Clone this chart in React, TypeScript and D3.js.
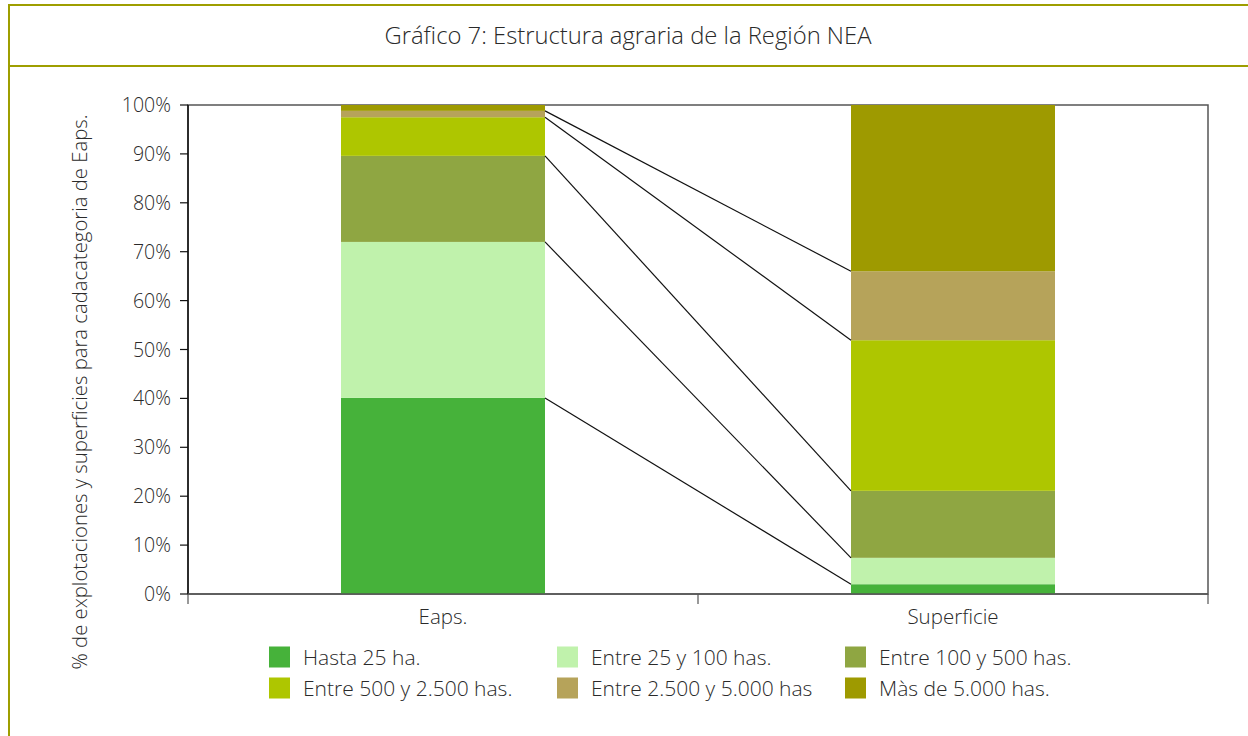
import React from "react";
import * as d3 from "d3";

const categories = ["Eaps.", "Superficie"];
const seriesNames = [
  "Hasta 25 ha.",
  "Entre 25 y 100 has.",
  "Entre 100 y 500 has.",
  "Entre 500 y 2.500 has.",
  "Entre 2.500 y 5.000 has",
  "Màs de 5.000 has.",
];
const eapsValues = [40.1, 31.9, 17.6, 7.9, 1.3, 1.2];
const superficieValues = [2.0, 5.4, 13.7, 30.8, 14.1, 34.0];
const seriesColors = ["#46b23a", "#c0f2ac", "#8fa642", "#aec600", "#b6a35a", "#9e9a00"];
const yTicks = [0, 10, 20, 30, 40, 50, 60, 70, 80, 90, 100];
const title = "Gráfico 7: Estructura agraria de la Región NEA";
const yTitle = "% de explotaciones y superficies para cadacategoria de Eaps.";

const W = 1248;
const H = 736;
const FONT = "'Open Sans', 'Noto Sans', sans-serif";
const M = { left: 188, right: 1208, top: 105, bottom: 594 };
const TXT = "#2a2a2a";

export default function App() {
  const x = d3.scaleBand<string>().domain(categories).range([M.left, M.right]).paddingInner(0.6).paddingOuter(0.3);
  const y = d3.scaleLinear().domain([0, 100]).range([M.bottom, M.top]);
  const valuesByCat = [eapsValues, superficieValues];
  const rows = categories.map((c, ci) => {
    const o: any = { cat: c };
    seriesNames.forEach((s, si) => (o[s] = valuesByCat[ci][si]));
    return o;
  });
  const stacked = d3.stack<any>().keys(seriesNames)(rows);
  const bw = x.bandwidth();
  const band = (M.right - M.left) / categories.length;

  const legendCols = [269, 557, 845];
  const legendRows = [657, 688];

  return (
    <svg width={W} height={H} style={{ position: "absolute", left: 0, top: 0, background: "#fff" }} fontFamily={FONT} fontWeight={300}>
      <rect x={0} y={0} width={W} height={H} fill="#fff" />
      {/* frame */}
      <rect x={9} y={5} width={W + 10} height={H + 10} fill="none" stroke="#9e9e00" strokeWidth={2} />
      <line x1={9} x2={W} y1={66} y2={66} stroke="#9e9e00" strokeWidth={2} />
      <text x={628} y={44} textAnchor="middle" fontSize={23.8} fill={TXT}>{title}</text>

      {/* plot frame */}
      <rect x={M.left} y={M.top} width={M.right - M.left} height={M.bottom - M.top} fill="none" stroke="#555" strokeWidth={1.5} />

      {/* bars */}
      {stacked.map((s, si) =>
        s.map((d, ci) => (
          <rect
            key={`${si}-${ci}`}
            x={x(categories[ci])!}
            y={y(d[1])}
            width={bw}
            height={y(d[0]) - y(d[1])}
            fill={seriesColors[si]}
          />
        ))
      )}

      {/* series lines */}
      {stacked.slice(0, seriesNames.length - 1).map((s, si) => (
        <line
          key={`sl-${si}`}
          x1={x(categories[0])! + bw}
          y1={y(s[0][1])}
          x2={x(categories[1])!}
          y2={y(s[1][1])}
          stroke="#111"
          strokeWidth={1.2}
        />
      ))}

      {/* y axis */}
      <line x1={M.left} x2={M.left} y1={M.top} y2={M.bottom} stroke="#111" strokeWidth={1.5} />
      {yTicks.map((t) => (
        <g key={t}>
          <line x1={M.left - 8} x2={M.left} y1={y(t)} y2={y(t)} stroke="#111" strokeWidth={1.2} />
          <text x={171} y={y(t) + 7} textAnchor="end" fontSize={19.5} fill={TXT}>{t}%</text>
        </g>
      ))}
      <text
        transform={`translate(87, ${392}) rotate(-90)`}
        textAnchor="middle"
        fontSize={20.3}
        fill={TXT}
      >{yTitle}</text>

      {/* x axis */}
      <line x1={M.left} x2={M.right} y1={M.bottom} y2={M.bottom} stroke="#555" strokeWidth={1.5} />
      {[0, 1, 2].map((i) => (
        <line key={i} x1={M.left + i * band} x2={M.left + i * band} y1={M.bottom} y2={M.bottom + 10} stroke="#555" strokeWidth={1.2} />
      ))}
      {categories.map((c) => (
        <text key={c} x={x(c)! + bw / 2} y={624} textAnchor="middle" fontSize={20.5} fill={TXT}>{c}</text>
      ))}

      {/* legend */}
      {seriesNames.map((s, i) => {
        const col = i % 3;
        const row = Math.floor(i / 3);
        return (
          <g key={s}>
            <rect x={legendCols[col]} y={legendRows[row] - 10.5} width={21} height={21} fill={seriesColors[i]} />
            <text x={legendCols[col] + 34} y={legendRows[row] + 7.5} fontSize={21} fill={TXT}>{s}</text>
          </g>
        );
      })}
    </svg>
  );
}
